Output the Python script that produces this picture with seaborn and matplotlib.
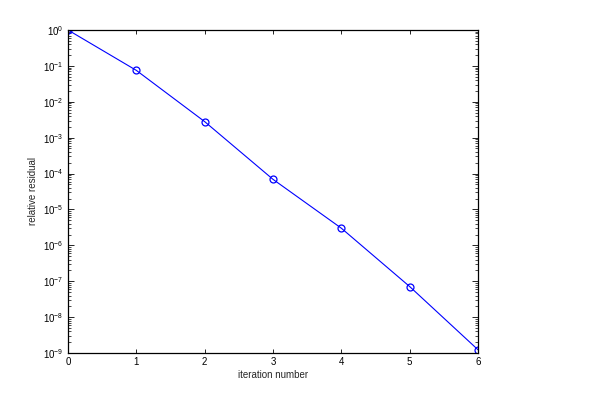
import matplotlib
matplotlib.use('Agg')
import matplotlib.pyplot as plt
import seaborn as sns
import numpy as np

# data
iterations = [0, 1, 2, 3, 4, 5, 6]
residuals = [1.0, 7.5e-2, 2.8e-3, 6.9e-5, 3.0e-6, 7.1e-8, 1.23e-9]

sns.set_style('ticks')
plt.rcParams['font.family'] = ['Liberation Sans', 'DejaVu Sans']
plt.rcParams['mathtext.default'] = 'regular'

fig = plt.figure(figsize=(6, 4.12), dpi=100)
ax = fig.add_axes([0.1133, 0.1432, 0.6834, 0.784])

sns.lineplot(x=iterations, y=residuals, ax=ax, color='#0000ff', linewidth=0.8,
             marker='o', markersize=5, markerfacecolor='none',
             markeredgecolor='#0000ff', markeredgewidth=0.9)

ax.set_yscale('log')
ax.set_xlim(0, 6)
ax.set_ylim(1e-9, 1)
ax.set_xticks(iterations)
ax.set_yticks([10.0 ** k for k in range(-9, 1)])
ax.yaxis.set_minor_locator(matplotlib.ticker.LogLocator(base=10, subs=np.arange(2, 10), numticks=20))
ax.yaxis.set_minor_formatter(matplotlib.ticker.NullFormatter())

for s in ax.spines.values():
    s.set_visible(True)
    s.set_linewidth(0.9)
    s.set_color('black')

ax.tick_params(which='both', direction='in', top=True, right=True, labelsize=7, colors='black')
ax.tick_params(which='major', length=4, width=0.6)
ax.tick_params(which='minor', length=2, width=0.5)
ax.tick_params(axis='x', which='major', length=3, pad=3)

ax.set_xlabel('iteration number', fontsize=7, labelpad=2)
ax.set_ylabel('relative residual', fontsize=7, labelpad=3)

fig.savefig('out.png', dpi=100)
